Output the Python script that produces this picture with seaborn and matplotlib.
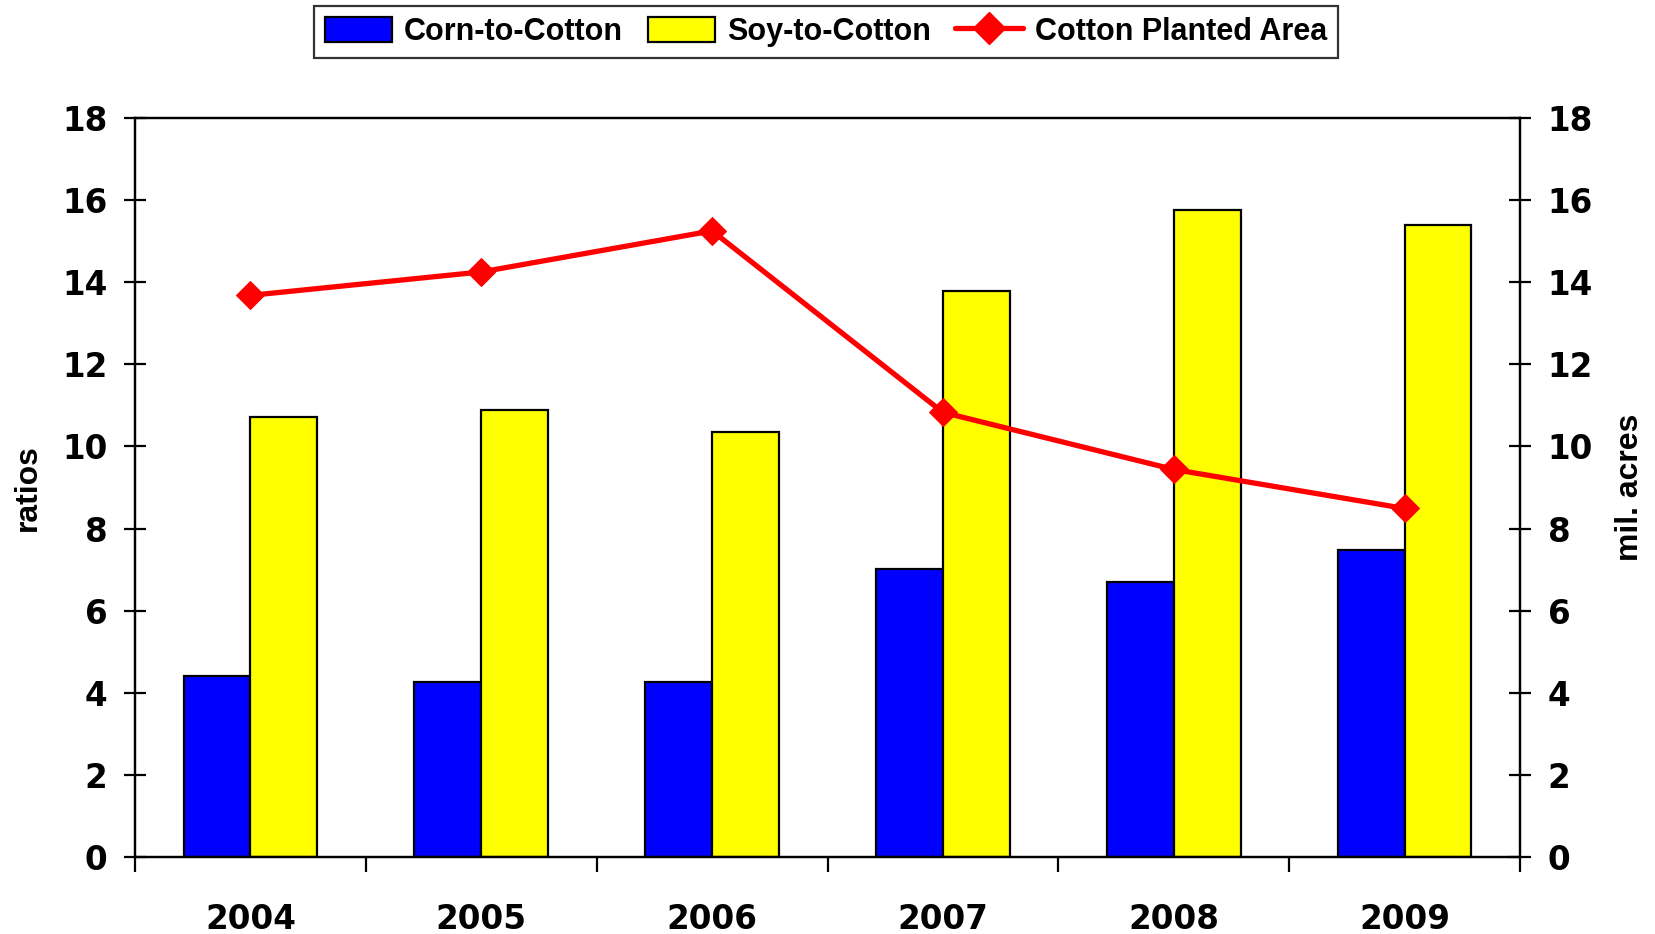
import matplotlib
matplotlib.use("Agg")
import matplotlib.pyplot as plt
import seaborn as sns
import pandas as pd
import numpy as np
from matplotlib.patches import Patch
from matplotlib.lines import Line2D

years = ["2004", "2005", "2006", "2007", "2008", "2009"]
corn_to_cotton = [4.42, 4.27, 4.27, 7.02, 6.71, 7.48]
soy_to_cotton = [10.72, 10.88, 10.36, 13.78, 15.76, 15.40]
cotton_planted_area = [13.68, 14.25, 15.25, 10.83, 9.44, 8.49]
series_names = ["Corn-to-Cotton", "Soy-to-Cotton", "Cotton Planted Area"]
y_ticks = [0, 2, 4, 6, 8, 10, 12, 14, 16, 18]

sns.set_theme(style="white")
plt.rcParams["font.family"] = ["Liberation Sans", "DejaVu Sans"]
plt.rcParams["text.color"] = "black"
plt.rcParams["axes.labelcolor"] = "black"
plt.rcParams["xtick.color"] = "black"
plt.rcParams["ytick.color"] = "black"
narrow = ["Liberation Sans Narrow", "Liberation Sans", "DejaVu Sans"]
wide = ["DejaVu Sans"]

df = pd.DataFrame({
    "year": years * 2,
    "value": corn_to_cotton + soy_to_cotton,
    "series": [series_names[0]] * len(years) + [series_names[1]] * len(years),
})

fig = plt.figure(figsize=(16.55, 9.34), dpi=100)
ax = fig.add_axes([0.0816, 0.0824, 0.8368, 0.7913])

sns.barplot(data=df, x="year", y="value", hue="series", order=years,
            hue_order=series_names[:2], palette=["#0000FF", "#FFFF00"],
            width=0.58, gap=0, edgecolor="black", linewidth=1.6,
            legend=False, ax=ax, saturation=1)

ax2 = ax.twinx()
sns.lineplot(x=np.arange(len(years)), y=cotton_planted_area, color="#FF0000",
             linewidth=3.8, marker="D", markersize=14, markeredgecolor="#FF0000",
             ax=ax2, legend=False)

for a in (ax, ax2):
    a.set_ylim(0, 18)
    a.set_yticks(y_ticks)
    a.set_xlim(-0.5, len(years) - 0.5)
    for s in a.spines.values():
        s.set_color("black")
        s.set_linewidth(1.6)

ax.set_xticks(range(len(years)))
ax.set_xticklabels(years)
ax.set_xticks(np.arange(-0.5, len(years)), minor=True)
ax.tick_params(axis="x", which="major", length=0, pad=33)
ax.tick_params(axis="x", which="minor", direction="out", length=11, width=1.6, color="black", bottom=True)
ax.tick_params(axis="y", direction="inout", length=16, width=1.6, color="black", pad=12, left=True)
ax2.tick_params(axis="y", direction="inout", length=16, width=1.6, color="black", pad=12, right=True)
for lab in ax.get_xticklabels() + ax.get_yticklabels() + ax2.get_yticklabels():
    lab.set_fontweight("bold")
    lab.set_family(wide)
    lab.set_fontsize(23.5)
    lab.set_color("black")

ax.set_xlabel("")
ax.set_ylabel("ratios", fontsize=23, fontweight="bold", family=narrow, labelpad=14, color="black")
ax2.set_ylabel("mil. acres", fontsize=23, fontweight="bold", family=narrow, labelpad=16, color="black")
ax2.yaxis.set_label_position("right")

handles = [
    Patch(facecolor="#0000FF", edgecolor="black", linewidth=1.6),
    Patch(facecolor="#FFFF00", edgecolor="black", linewidth=1.6),
    Line2D([0], [0], color="#FF0000", linewidth=3.8, marker="D", markersize=16),
]
leg = fig.legend(handles, series_names, loc="center", bbox_to_anchor=(0.499, 0.966),
                 ncol=3, frameon=True, fancybox=False, edgecolor="black",
                 prop={"family": narrow, "weight": "bold", "size": 22},
                 handlelength=2.2, handleheight=0.9, columnspacing=0.8,
                 handletextpad=0.4, borderpad=0.35)
leg.get_frame().set_linewidth(1.6)
for t in leg.get_texts():
    t.set_color("black")

fig.savefig("out.png", dpi=100)
